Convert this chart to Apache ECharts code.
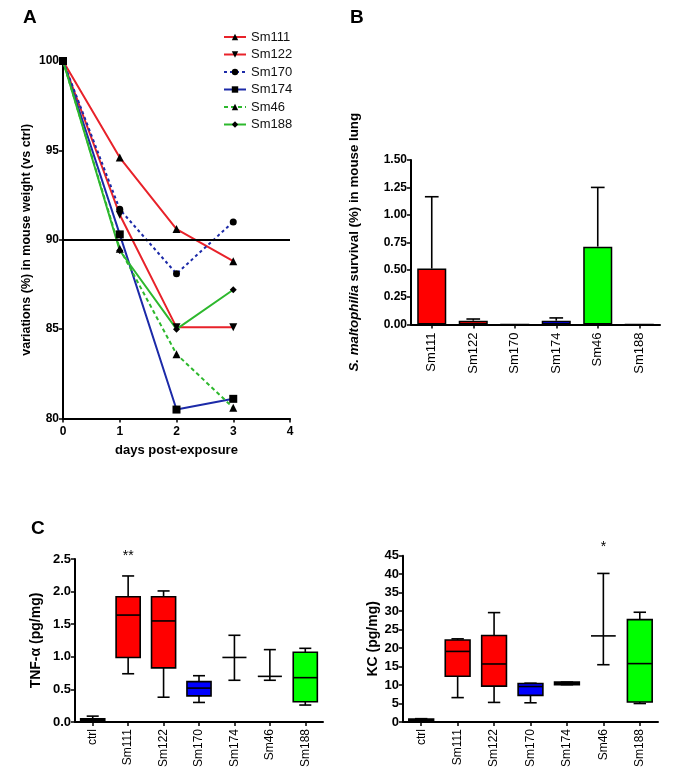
<!DOCTYPE html>
<html><head><meta charset="utf-8">
<script src="https://cdn.jsdelivr.net/npm/echarts@6/dist/echarts.min.js"></script>
<style>html,body{margin:0;padding:0;background:#fff}#c{width:685px;height:782px}</style>
</head><body><div id="c"></div><script>
// ---- Panel A: weight variation ----
const days = [0, 1, 2, 3];
const strains = ['Sm111', 'Sm122', 'Sm170', 'Sm174', 'Sm46', 'Sm188'];
const wSm111 = [100, 94.6, 90.6, 88.8];
const wSm122 = [100, 91.4, 85.1, 85.1];
const wSm170 = [100, 91.7, 88.1, 91.0];
const wSm174 = [100, 90.3, 80.5, 81.1];
const wSm46  = [100, 89.5, 83.6, 80.6];
const wSm188 = [100, 89.4, 85.0, 87.2];
const refLine = 90;
// ---- Panel B: survival ----
const survMean  = [0.51, 0.035, 0, 0.035, 0.71, 0];
const survUpper = [1.165, 0.05, 0, 0.06, 1.25, 0];
// ---- Panel C: cytokines ----
const cCats = ['ctrl', 'Sm111', 'Sm122', 'Sm170', 'Sm174', 'Sm46', 'Sm188'];
const tnfMin = [0.01, 0.74, 0.38, 0.30, 0.64, 0.64, 0.26];
const tnfQ1  = [0.02, 0.99, 0.83, 0.40, 0.99, 0.70, 0.31];
const tnfMed = [0.04, 1.64, 1.55, 0.52, 0.99, 0.70, 0.68];
const tnfQ3  = [0.05, 1.92, 1.92, 0.62, 0.99, 0.70, 1.07];
const tnfMax = [0.09, 2.24, 2.01, 0.71, 1.33, 1.11, 1.13];
const tnfSig = ['', '**', '', '', '', '', ''];
const kcMin = [0.2, 6.6, 5.3, 5.2, 10.1, 15.5, 5.0];
const kcQ1  = [0.3, 12.4, 9.7, 7.2, 10.1, 23.3, 5.4];
const kcMed = [0.6, 19.1, 15.7, 9.6, 10.4, 23.3, 15.8];
const kcQ3  = [0.8, 22.2, 23.4, 10.4, 10.8, 23.3, 27.7];
const kcMax = [0.9, 22.5, 29.6, 10.5, 10.8, 40.2, 29.7];
const kcSig = ['', '', '', '', '', '*', ''];

// styles
const RED = '#e8222a', BLUE = '#1c2aa8', GREEN = '#2db82d';
const barColors = ['#ff0000', '#ff0000', '#0000ff', '#0000ff', '#00ff00', '#00ff00'];
const tnfFill = ['none', '#ff0000', '#ff0000', '#0000ff', 'none', 'none', '#00ff00'];
const kcFill  = ['#111111', '#ff0000', '#ff0000', '#0000ff', '#0000ff', 'none', '#00ff00'];
const FONT = 'Liberation Sans';

const chart = echarts.init(document.getElementById('c'), null, {renderer: 'canvas'});

const axLine = {show: true, onZero: false, lineStyle: {color: '#000', width: 2}};
const axTick = {show: true, length: 4, lineStyle: {color: '#000', width: 1.5}};

function lineSeries(name, arr, color, symbol, rot, dash, size) {
  return {
    name: name, type: 'line', xAxisIndex: 0, yAxisIndex: 0,
    data: days.map((d, i) => [d, arr[i]]),
    symbol: symbol, symbolSize: size, symbolRotate: rot,
    itemStyle: {color: '#000'},
    lineStyle: {color: color, width: 2, type: dash},
    z: 3
  };
}

function boxItem(fills, sig, sigOff) {
  return function (params, api) {
    const idx = params.dataIndex;
    const i = api.value(0);
    const pLo = api.coord([i, api.value(1)]);
    const pQ1 = api.coord([i, api.value(2)]);
    const pMed = api.coord([i, api.value(3)]);
    const pQ3 = api.coord([i, api.value(4)]);
    const pHi = api.coord([i, api.value(5)]);
    const band = api.size([1, 0])[0];
    const bw = band * 0.68, cw = band * 0.34;
    const x = pMed[0];
    const ls = {stroke: '#000', lineWidth: 1.6};
    const ch = [];
    ch.push({type: 'line', shape: {x1: x, y1: pHi[1], x2: x, y2: pQ3[1]}, style: ls});
    ch.push({type: 'line', shape: {x1: x, y1: pQ1[1], x2: x, y2: pLo[1]}, style: ls});
    ch.push({type: 'line', shape: {x1: x - cw / 2, y1: pHi[1], x2: x + cw / 2, y2: pHi[1]}, style: ls});
    ch.push({type: 'line', shape: {x1: x - cw / 2, y1: pLo[1], x2: x + cw / 2, y2: pLo[1]}, style: ls});
    if (pQ1[1] - pQ3[1] > 0.5) {
      ch.push({type: 'rect', shape: {x: x - bw / 2, y: pQ3[1], width: bw, height: pQ1[1] - pQ3[1]},
        style: {fill: fills[idx], stroke: '#000', lineWidth: 1.6}});
    }
    ch.push({type: 'line', shape: {x1: x - bw / 2, y1: pMed[1], x2: x + bw / 2, y2: pMed[1]}, style: ls});
    if (sig[idx]) {
      ch.push({type: 'text', x: x, y: pHi[1] - sigOff,
        style: {text: sig[idx], fill: '#000', font: '14px ' + FONT, align: 'center', verticalAlign: 'middle'}});
    }
    return {type: 'group', children: ch};
  };
}

function boxData(mn, q1, md, q3, mx) {
  return mn.map((v, i) => [i, mn[i], q1[i], md[i], q3[i], mx[i]]);
}

const option = {
  animation: false,
  backgroundColor: '#fff',
  textStyle: {fontFamily: FONT, color: '#000'},
  graphic: [
    {type: 'text', left: 23, top: 8, style: {text: 'A', font: 'bold 19px ' + FONT, fill: '#000'}},
    {type: 'text', left: 350, top: 8, style: {text: 'B', font: 'bold 19px ' + FONT, fill: '#000'}},
    {type: 'text', left: 31, top: 519, style: {text: 'C', font: 'bold 19px ' + FONT, fill: '#000'}}
  ],
  legend: {
    orient: 'vertical', left: 218, top: 25,
    itemWidth: 22, itemHeight: 8, itemGap: 3.5,
    textStyle: {fontSize: 13, color: '#111', lineHeight: 14, fontFamily: FONT},
    data: strains
  },
  grid: [
    {left: 63, top: 61, width: 227, height: 357.5},
    {left: 411, top: 160, width: 249, height: 164.5},
    {left: 75, top: 559, width: 248, height: 163},
    {left: 403, top: 555.7, width: 255, height: 166.3}
  ],
  xAxis: [
    {gridIndex: 0, type: 'value', min: 0, max: 4, interval: 1,
      axisLine: axLine, axisTick: axTick, splitLine: {show: false},
      axisLabel: {fontSize: 12, fontWeight: 'bold', color: '#000', margin: 7},
      name: 'days post-exposure', nameLocation: 'middle', nameGap: 25,
      nameTextStyle: {fontSize: 13, fontWeight: 'bold', color: '#000'}},
    {gridIndex: 1, type: 'category', data: strains,
      axisLine: axLine, axisTick: Object.assign({alignWithLabel: true}, axTick),
      axisLabel: {rotate: 90, fontSize: 13, color: '#000', margin: 8}},
    {gridIndex: 2, type: 'category', data: cCats,
      axisLine: axLine, axisTick: Object.assign({alignWithLabel: true}, axTick),
      axisLabel: {rotate: 90, fontSize: 12, color: '#000', margin: 7}},
    {gridIndex: 3, type: 'category', data: cCats,
      axisLine: axLine, axisTick: Object.assign({alignWithLabel: true}, axTick),
      axisLabel: {rotate: 90, fontSize: 12, color: '#000', margin: 7}}
  ],
  yAxis: [
    {gridIndex: 0, type: 'value', min: 80, max: 100, interval: 5,
      axisLine: axLine, axisTick: axTick, splitLine: {show: false},
      axisLabel: {fontSize: 12, fontWeight: 'bold', color: '#000', margin: 4},
      name: 'variations (%) in mouse weight (vs ctrl)', nameLocation: 'middle', nameGap: 30,
      nameTextStyle: {fontSize: 12.5, fontWeight: 'bold', color: '#000'}},
    {gridIndex: 1, type: 'value', min: 0, max: 1.5, interval: 0.25,
      axisLine: axLine, axisTick: axTick, splitLine: {show: false},
      axisLabel: {fontSize: 12, fontWeight: 'bold', color: '#000', margin: 4, formatter: v => v.toFixed(2)},
      name: '{i|S. maltophilia} survival (%) in mouse lung', nameLocation: 'middle', nameGap: 50,
      nameTextStyle: {fontSize: 13.3, fontWeight: 'bold', color: '#000',
        rich: {i: {fontStyle: 'italic', fontWeight: 'bold', fontSize: 13.3, color: '#000'}}}},
    {gridIndex: 2, type: 'value', min: 0, max: 2.5, interval: 0.5,
      axisLine: axLine, axisTick: axTick, splitLine: {show: false},
      axisLabel: {fontSize: 13, fontWeight: 'bold', color: '#000', margin: 4, formatter: v => v.toFixed(1)},
      name: 'TNF-α (pg/mg)', nameLocation: 'middle', nameGap: 32,
      nameTextStyle: {fontSize: 14, fontWeight: 'bold', color: '#000'}},
    {gridIndex: 3, type: 'value', min: 0, max: 45, interval: 5,
      axisLine: axLine, axisTick: axTick, splitLine: {show: false},
      axisLabel: {fontSize: 13, fontWeight: 'bold', color: '#000', margin: 4},
      name: 'KC (pg/mg)', nameLocation: 'middle', nameGap: 22,
      nameTextStyle: {fontSize: 14, fontWeight: 'bold', color: '#000'}}
  ],
  series: [
    Object.assign(lineSeries('Sm111', wSm111, RED, 'triangle', 0, 'solid', 8), {
      markLine: {silent: true, symbol: 'none', label: {show: false},
        lineStyle: {color: '#000', width: 2, type: 'solid'}, data: [{yAxis: refLine}]}
    }),
    lineSeries('Sm122', wSm122, RED, 'triangle', 180, 'solid', 8),
    lineSeries('Sm170', wSm170, BLUE, 'circle', 0, [3, 3], 7),
    lineSeries('Sm174', wSm174, BLUE, 'rect', 0, 'solid', 8),
    lineSeries('Sm46', wSm46, GREEN, 'triangle', 0, [4, 3], 8),
    lineSeries('Sm188', wSm188, GREEN, 'diamond', 0, 'solid', 7),
    {
      type: 'bar', xAxisIndex: 1, yAxisIndex: 1, barWidth: '70%',
      data: survMean.map((v, i) => ({value: v, itemStyle: {color: barColors[i]}})),
      itemStyle: {borderColor: '#000', borderWidth: 1.5}
    },
    {
      type: 'custom', xAxisIndex: 1, yAxisIndex: 1, z: 5, clip: false,
      data: survMean.map((v, i) => [i, v, survUpper[i]]),
      renderItem: function (params, api) {
        const p0 = api.coord([api.value(0), api.value(1)]);
        const p1 = api.coord([api.value(0), api.value(2)]);
        if (p0[1] - p1[1] < 0.5) return null;
        const cw = api.size([1, 0])[0] * 0.33;
        const ls = {stroke: '#000', lineWidth: 1.6};
        return {type: 'group', children: [
          {type: 'line', shape: {x1: p0[0], y1: p0[1], x2: p1[0], y2: p1[1]}, style: ls},
          {type: 'line', shape: {x1: p1[0] - cw / 2, y1: p1[1], x2: p1[0] + cw / 2, y2: p1[1]}, style: ls}
        ]};
      }
    },
    {
      type: 'custom', xAxisIndex: 2, yAxisIndex: 2, clip: false,
      data: boxData(tnfMin, tnfQ1, tnfMed, tnfQ3, tnfMax),
      renderItem: boxItem(tnfFill, tnfSig, 20)
    },
    {
      type: 'custom', xAxisIndex: 3, yAxisIndex: 3, clip: false,
      data: boxData(kcMin, kcQ1, kcMed, kcQ3, kcMax),
      renderItem: boxItem(kcFill, kcSig, 26)
    }
  ]
};
chart.setOption(option);
</script></body></html>
